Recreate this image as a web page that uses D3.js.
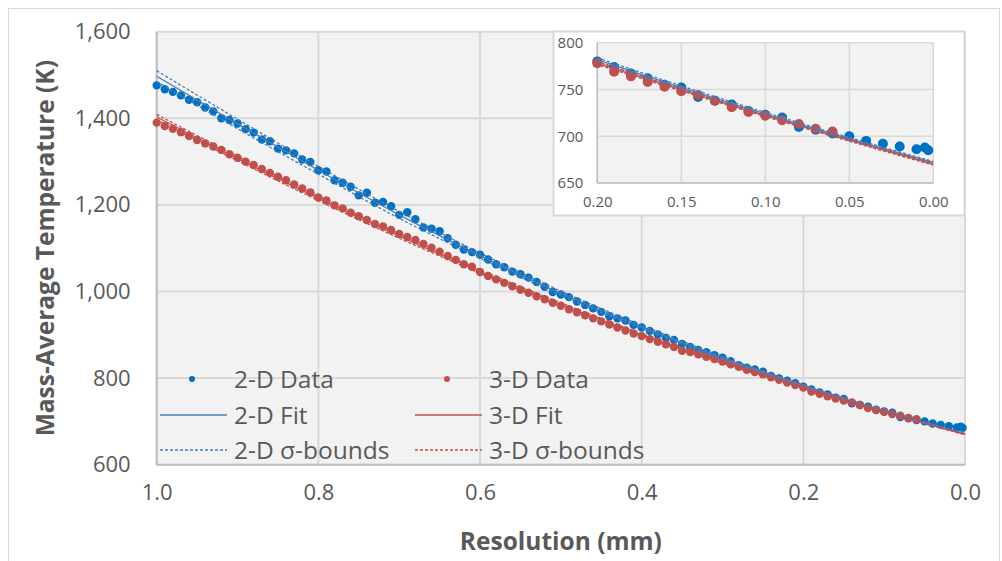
<!DOCTYPE html>
<html>
<head>
<meta charset="utf-8">
<script src="https://cdn.jsdelivr.net/npm/d3@7"></script>
<style>
  body { margin: 0; background: #fff; }
  text { font-family: "Open Sans", Lato, sans-serif; fill: #595959; }
</style>
</head>
<body>
<div id="chart"></div>
<script>
// 1: DATA
const res2D = [1.00,0.99,0.98,0.97,0.96,0.95,0.94,0.93,0.92,0.91,0.90,0.89,0.88,0.87,0.86,0.85,0.84,0.83,0.82,0.81,
  0.80,0.79,0.78,0.77,0.76,0.75,0.74,0.73,0.72,0.71,0.70,0.69,0.68,0.67,0.66,0.65,0.64,0.63,0.62,0.61,
  0.60,0.59,0.58,0.57,0.56,0.55,0.54,0.53,0.52,0.51,0.50,0.49,0.48,0.47,0.46,0.45,0.44,0.43,0.42,0.41,
  0.40,0.39,0.38,0.37,0.36,0.35,0.34,0.33,0.32,0.31,0.30,0.29,0.28,0.27,0.26,0.25,0.24,0.23,0.22,0.21,
  0.20,0.19,0.18,0.17,0.16,0.15,0.14,0.13,0.12,0.11,0.10,0.09,0.08,0.07,0.06,0.05,0.04,0.03,0.02,0.01,
  0.005,0.003];
const temp2D = [1476,1467,1461,1453,1443,1437,1425,1416,1400,1396,1388,1375,1367,1351,1347,1330,1326,1319,1305,1299,
  1280,1277,1257,1251,1242,1222,1228,1205,1207,1197,1177,1183,1167,1148,1145,1139,1123,1108,1097,1091,
  1085,1074,1063,1056,1046,1040,1032,1022,1011,999,993,987,977,969,961,953,943,938,933,923,
  917,909,901,893,888,879,872,865,860,853,847,839,830,824,820,815,805,799,794,788,
  780,774,767,762,755,752,742,738,734,727,723,720,710,707,703,700,695,692,689,686,
  688,685];

const res3D = [1.00,0.99,0.98,0.97,0.96,0.95,0.94,0.93,0.92,0.91,0.90,0.89,0.88,0.87,0.86,0.85,0.84,0.83,0.82,0.81,
  0.80,0.79,0.78,0.77,0.76,0.75,0.74,0.73,0.72,0.71,0.70,0.69,0.68,0.67,0.66,0.65,0.64,0.63,0.62,0.61,
  0.60,0.59,0.58,0.57,0.56,0.55,0.54,0.53,0.52,0.51,0.50,0.49,0.48,0.47,0.46,0.45,0.44,0.43,0.42,0.41,
  0.40,0.39,0.38,0.37,0.36,0.35,0.34,0.33,0.32,0.31,0.30,0.29,0.28,0.27,0.26,0.25,0.24,0.23,0.22,0.21,
  0.20,0.19,0.18,0.17,0.16,0.15,0.14,0.13,0.12,0.11,0.10,0.09,0.08,0.07,0.06];
const temp3D = [1390,1382,1376,1368,1359,1350,1342,1335,1327,1317,1309,1300,1292,1283,1274,1265,1257,1247,1238,1229,
  1217,1210,1199,1192,1182,1174,1165,1156,1150,1142,1133,1126,1119,1110,1101,1092,1082,1073,1063,1057,
  1045,1036,1028,1020,1012,1004,997,989,982,974,967,959,952,945,938,931,924,917,910,903,
  897,890,884,878,872,863,860,855,849,844,838,832,826,819,814,809,802,796,790,784,
  778,769,764,758,753,748,744,738,731,726,722,717,713,708,705];

// fits and sigma bounds, read at 0.1 steps
const fitRes = [1.0,0.9,0.8,0.7,0.6,0.5,0.4,0.3,0.2,0.1,0.0];
const fit2D   = [1497,1387,1280,1177,1083,996,918,847,782,724,672];
const fit2DHi = [1510,1398,1289,1185,1089,1001,922,850,784,725.5,673];
const fit2DLo = [1485,1376,1271,1169,1077,991,914,844,780,722.5,671];
const fit3D   = [1403,1307,1215,1128,1046,970,900,836,778,722,670];
const fit3DHi = [1409,1312,1220,1133,1050,974,903,838,779.5,723,671];
const fit3DLo = [1397,1302,1210,1123,1042,966,897,834,776.5,721,669];

const xTicks = [1.0,0.8,0.6,0.4,0.2,0.0];
const yTicks = [600,800,1000,1200,1400,1600];
const insetXTicks = [0.20,0.15,0.10,0.05,0.00];
const insetYTicks = [650,700,750,800];

const legendLabels = ["2-D Data","3-D Data","2-D Fit","3-D Fit","2-D σ-bounds","3-D σ-bounds"];

// colours
const blue = "#0070c0", red = "#c0504d", fitBlue = "#4a7ebb", fitRed = "#c0504d";

// 2: SVG
const W = 1002, H = 561;
const svg = d3.select("#chart").append("svg").attr("width", W).attr("height", H);

svg.append("rect").attr("x", 8.5).attr("y", 8.5).attr("width", 991).attr("height", 560)
  .attr("fill", "#fff").attr("stroke", "#d9d9d9");

const plot = { left: 156.7, right: 965, top: 31.7, bottom: 464.7 };

// 3: SCALES
const x = d3.scaleLinear().domain([1, 0]).range([plot.left, plot.right]);
const y = d3.scaleLinear().domain([600, 1600]).range([plot.bottom, plot.top]);

// 4: PLOT AREA + GRID
svg.append("rect").attr("x", plot.left).attr("y", plot.top)
  .attr("width", plot.right - plot.left).attr("height", plot.bottom - plot.top).attr("fill", "#f2f2f2");

svg.append("g").selectAll("line").data(yTicks).join("line")
  .attr("x1", plot.left).attr("x2", plot.right).attr("y1", d => y(d)).attr("y2", d => y(d))
  .attr("stroke", "#d9d9d9").attr("stroke-width", 2);
svg.append("g").selectAll("line").data(xTicks).join("line")
  .attr("x1", d => x(d)).attr("x2", d => x(d)).attr("y1", plot.top).attr("y2", plot.bottom)
  .attr("stroke", "#d9d9d9").attr("stroke-width", 2);
// axis lines
svg.append("line").attr("x1", plot.left).attr("x2", plot.left).attr("y1", plot.top).attr("y2", plot.bottom)
  .attr("stroke", "#bfbfbf").attr("stroke-width", 2);
svg.append("line").attr("x1", plot.left).attr("x2", plot.right).attr("y1", plot.bottom).attr("y2", plot.bottom)
  .attr("stroke", "#bfbfbf").attr("stroke-width", 2);

// tick labels via d3 axes (no domain/ticks lines)
const yAxis = svg.append("g").attr("transform", `translate(${plot.left},0)`)
  .call(d3.axisLeft(y).tickValues(yTicks).tickFormat(d3.format(",")).tickSize(0).tickPadding(26));
const xAxis = svg.append("g").attr("transform", `translate(0,${plot.bottom})`)
  .call(d3.axisBottom(x).tickValues(xTicks).tickFormat(d3.format(".1f")).tickSize(0).tickPadding(20));
[yAxis, xAxis].forEach(a => {
  a.select(".domain").remove();
  a.selectAll("text").attr("font-size", 22).style("fill", "#595959").attr("font-family", "Open Sans");
});

// axis titles
svg.append("text").attr("x", (plot.left + plot.right) / 2).attr("y", 550)
  .attr("text-anchor", "middle").attr("font-size", 24.5).attr("font-weight", "bold")
  .text("Resolution (mm)");
svg.append("text").attr("transform", `translate(54,${(plot.top + plot.bottom) / 2}) rotate(-90)`)
  .attr("text-anchor", "middle").attr("font-size", 24.5).attr("font-weight", "bold")
  .text("Mass-Average Temperature (K)");

// 5: SERIES
const pts2D = res2D.map((r, i) => ({ r, t: temp2D[i] }));
const pts3D = res3D.map((r, i) => ({ r, t: temp3D[i] }));
const fitPts = arr => fitRes.map((r, i) => ({ r, t: arr[i] }));

function drawSeries(g, xs, ys, dotR, filt) {
  const line = d3.line().x(d => xs(d.r)).y(d => ys(d.t)).curve(d3.curveMonotoneX);
  g.selectAll(".d2").data(pts2D.filter(filt)).join("circle").attr("class", "d2")
    .attr("cx", d => xs(d.r)).attr("cy", d => ys(d.t)).attr("r", dotR).attr("fill", blue);
  g.selectAll(".d3").data(pts3D.filter(filt)).join("circle").attr("class", "d3")
    .attr("cx", d => xs(d.r)).attr("cy", d => ys(d.t)).attr("r", dotR).attr("fill", red);
  const lines = [
    [fit2D, fitBlue, null], [fit3D, fitRed, null],
    [fit2DHi, fitBlue, "3,2"], [fit2DLo, fitBlue, "3,2"],
    [fit3DHi, fitRed, "3,2"], [fit3DLo, fitRed, "3,2"]
  ];
  const lg = g.append("g");
  lines.forEach(([arr, c, dash]) => {
    lg.append("path").datum(fitPts(arr)).attr("d", line).attr("fill", "none")
      .attr("stroke", c).attr("stroke-width", 1.3).attr("stroke-dasharray", dash);
  });
  return lg;
}

const main = svg.append("g");
drawSeries(main, x, y, 4.2, () => true);

// 6: LEGEND
const legend = svg.append("g");
const legCols = [160, 415];
const legRows = [379, 415, 450];
legendLabels.forEach((lab, i) => {
  const cx = legCols[i % 2], cy = legRows[Math.floor(i / 2)];
  const c = i % 2 === 0 ? (i === 0 ? blue : fitBlue) : (i === 1 ? red : fitRed);
  if (i < 2) {
    legend.append("circle").attr("cx", cx + 32).attr("cy", cy).attr("r", 3).attr("fill", c);
  } else {
    legend.append("line").attr("x1", cx).attr("x2", cx + 67).attr("y1", cy).attr("y2", cy)
      .attr("stroke", c).attr("stroke-width", 1.3).attr("stroke-dasharray", i >= 4 ? "3,2" : null);
  }
  legend.append("text").attr("x", cx + 74).attr("y", cy).attr("dy", "0.35em")
    .attr("font-size", 24.5).text(lab);
});

// 7: INSET
const inset = { left: 597.3, right: 933.3, top: 42.7, bottom: 183 };
svg.append("rect").attr("x", 553.5).attr("y", 31.5).attr("width", 411).attr("height", 184)
  .attr("fill", "#fff").attr("stroke", "#d9d9d9").attr("stroke-width", 2);

const xi = d3.scaleLinear().domain([0.2, 0]).range([inset.left, inset.right]);
const yi = d3.scaleLinear().domain([650, 800]).range([inset.bottom, inset.top]);

svg.append("rect").attr("x", inset.left).attr("y", inset.top)
  .attr("width", inset.right - inset.left).attr("height", inset.bottom - inset.top).attr("fill", "#f2f2f2");
svg.append("g").selectAll("line").data(insetYTicks).join("line")
  .attr("x1", inset.left).attr("x2", inset.right).attr("y1", d => yi(d)).attr("y2", d => yi(d))
  .attr("stroke", "#d9d9d9").attr("stroke-width", 1.5);
svg.append("g").selectAll("line").data(insetXTicks).join("line")
  .attr("x1", d => xi(d)).attr("x2", d => xi(d)).attr("y1", inset.top).attr("y2", inset.bottom)
  .attr("stroke", "#d9d9d9").attr("stroke-width", 1.5);
svg.append("line").attr("x1", inset.left).attr("x2", inset.left).attr("y1", inset.top).attr("y2", inset.bottom)
  .attr("stroke", "#bfbfbf").attr("stroke-width", 1.5);
svg.append("line").attr("x1", inset.left).attr("x2", inset.right).attr("y1", inset.bottom).attr("y2", inset.bottom)
  .attr("stroke", "#bfbfbf").attr("stroke-width", 1.5);

const yiAxis = svg.append("g").attr("transform", `translate(${inset.left},0)`)
  .call(d3.axisLeft(yi).tickValues(insetYTicks).tickSize(0).tickPadding(14));
const xiAxis = svg.append("g").attr("transform", `translate(0,${inset.bottom})`)
  .call(d3.axisBottom(xi).tickValues(insetXTicks).tickFormat(d3.format(".2f")).tickSize(0).tickPadding(13));
[yiAxis, xiAxis].forEach(a => {
  a.select(".domain").remove();
  a.selectAll("text").attr("font-size", 15).style("fill", "#595959").attr("font-family", "Open Sans");
});

svg.append("clipPath").attr("id", "insetClip").append("rect")
  .attr("x", inset.left).attr("y", inset.top)
  .attr("width", inset.right - inset.left).attr("height", inset.bottom - inset.top);

const insetG = svg.append("g");
const insetLines = drawSeries(insetG, xi, yi, 5, d => d.r <= 0.2001);
insetLines.attr("clip-path", "url(#insetClip)");
</script>
</body>
</html>
